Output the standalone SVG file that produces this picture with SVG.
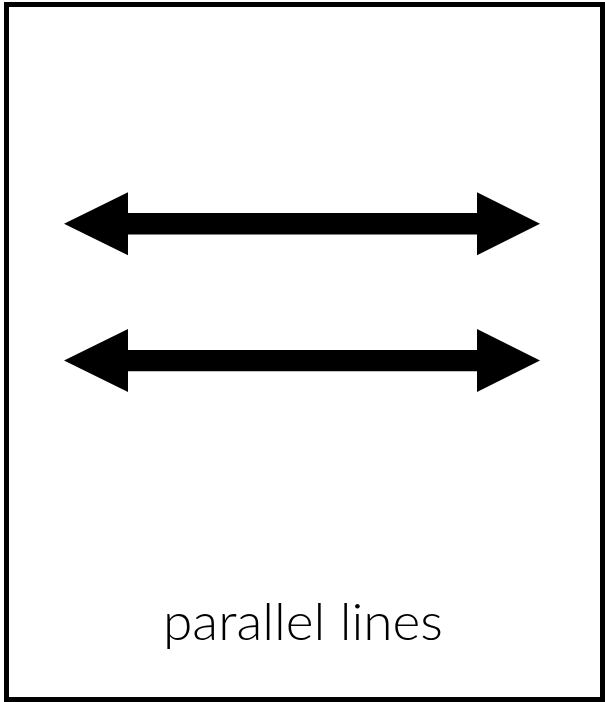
<svg xmlns="http://www.w3.org/2000/svg" width="605" height="702" viewBox="0 0 605 702">
<style>
.frame{fill:#fff;stroke:#000;stroke-width:5}
.arrow{fill:#000}
.label{font-family:Lato,"Open Sans",sans-serif;font-weight:300;font-size:52px;fill:#000;text-anchor:middle}
</style>
<defs>
<polygon id="dbl" points="64,0 128,-31.5 128,-10.7 477,-10.7 477,-31.5 540,0 477,31.5 477,10.7 128,10.7 128,31.5"/>
</defs>
<rect class="frame" x="6.5" y="4.5" width="596" height="695"/>
<g id="connectors">
<use id="arrow1" class="arrow" href="#dbl" transform="translate(0,223.7)"/>
<use id="arrow2" class="arrow" href="#dbl" transform="translate(0,360.6)"/>
</g>
<g id="label">
<text class="label" x="303" y="640" textLength="280" lengthAdjust="spacingAndGlyphs">parallel lines</text>
</g>
</svg>
